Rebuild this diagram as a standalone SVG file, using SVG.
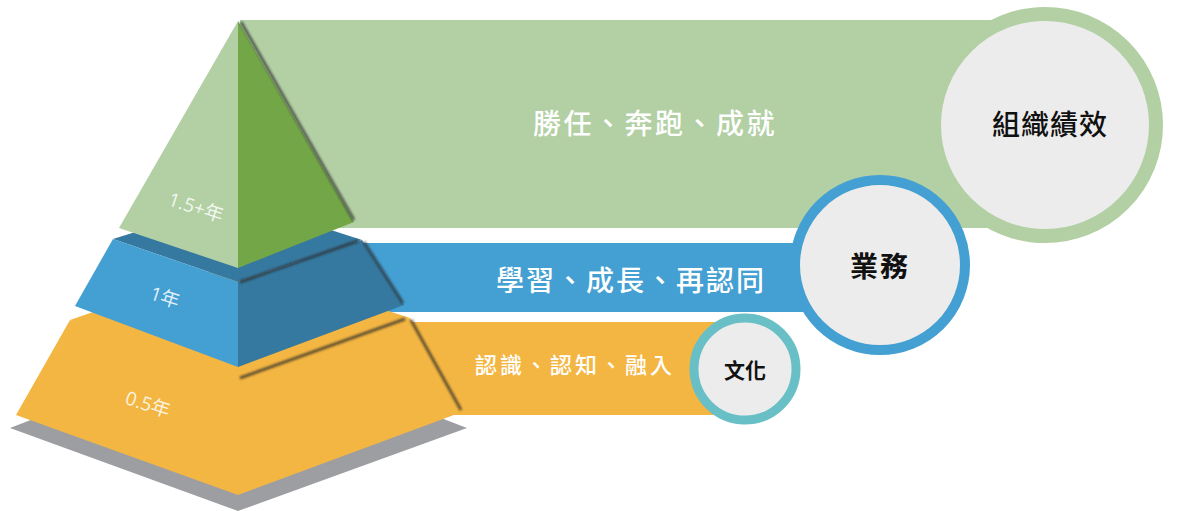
<svg xmlns="http://www.w3.org/2000/svg" width="1200" height="511" viewBox="0 0 1200 511">
<defs>
<filter id="blur" x="-20%" y="-20%" width="140%" height="140%"><feGaussianBlur stdDeviation="1.3"/></filter>
<style>
.band-t{font-family:"Noto Sans CJK TC","Noto Sans CJK SC",sans-serif;fill:#ffffff;text-anchor:middle;dominant-baseline:central;font-weight:500;}
.circ-t{font-family:"Noto Sans CJK TC","Noto Sans CJK SC",sans-serif;fill:#111111;text-anchor:middle;dominant-baseline:central;font-weight:700;}
.circ-m{font-family:"Noto Sans CJK TC","Noto Sans CJK SC",sans-serif;fill:#111111;text-anchor:middle;dominant-baseline:central;font-weight:500;}
.yr{font-family:"Open Sans","Noto Sans CJK TC",sans-serif;fill:#ffffff;fill-opacity:0.85;font-size:19px;text-anchor:middle;dominant-baseline:central;}
.sh{stroke:#2a2a2a;stroke-opacity:0.7;stroke-width:3;fill:none;filter:url(#blur);}
.disc{fill:#ececec;}
</style>
</defs>
<g id="bands">
<rect id="band-green" x="240" y="20" width="805" height="208" fill="#b2d0a4"/>
<rect id="band-blue" x="300" y="243" width="580" height="69" fill="#449fd2"/>
<rect id="band-orange" x="380" y="322" width="365" height="93" fill="#f4b642"/>
</g>
<g id="pyramid">
<polygon points="10,428 238,340 467,428 238,511" fill="#9d9ea2"/>
<polygon points="70,320 238,262 410,318 238,378" fill="#f4b642"/>
<polygon points="70,320 238,367 238,495 16,415" fill="#f4b642"/>
<polygon points="238,367 410,318 462,412 238,495" fill="#f4b642"/>
<path class="sh" d="M240,378 L405,319 M411,320 L461,410"/>
<polygon points="113,239 238,200 362,240 238,282" fill="#3679a0"/>
<polygon points="113,239 238,282 238,367 75,306" fill="#449fd2"/>
<polygon points="238,282 362,240 404,305 238,367" fill="#3679a0"/>
<path class="sh" d="M240,282 L358,241 M364,242 L403,303"/>
<polygon points="238,21 119,228 238,268" fill="#b2d0a4"/>
<polygon points="238,21 354,222 238,268" fill="#72a647"/>
<path class="sh" d="M241,22 L354,220"/>
<text class="yr" x="196" y="207" transform="rotate(18 196 207)">1.5+年</text>
<text class="yr" x="165" y="297" transform="rotate(18 165 297)">1年</text>
<text class="yr" x="148" y="404" transform="rotate(18 148 404)">0.5年</text>
</g>
<g id="node-org">
<circle cx="1045" cy="125" r="111" class="disc" stroke="#b2d0a4" stroke-width="14"/>
<text class="band-t" x="655" y="122" font-size="28" letter-spacing="2.5">勝任、奔跑、成就</text>
<text class="circ-m" x="1050" y="123" font-size="28" letter-spacing="1">組織績效</text>
</g>
<g id="node-biz">
<circle cx="880" cy="265" r="85" class="disc" stroke="#449fd2" stroke-width="10"/>
<text class="band-t" x="631" y="279" font-size="28" letter-spacing="2">學習、成長、再認同</text>
<text class="circ-t" x="880" y="265" font-size="28" letter-spacing="2">業務</text>
</g>
<g id="node-culture">
<circle cx="745" cy="369" r="51" class="disc" stroke="#68bfc6" stroke-width="9"/>
<text class="band-t" x="575" y="363" font-size="22" letter-spacing="3">認識、認知、融入</text>
<text class="circ-t" x="745" y="369" font-size="21">文化</text>
</g>
</svg>
